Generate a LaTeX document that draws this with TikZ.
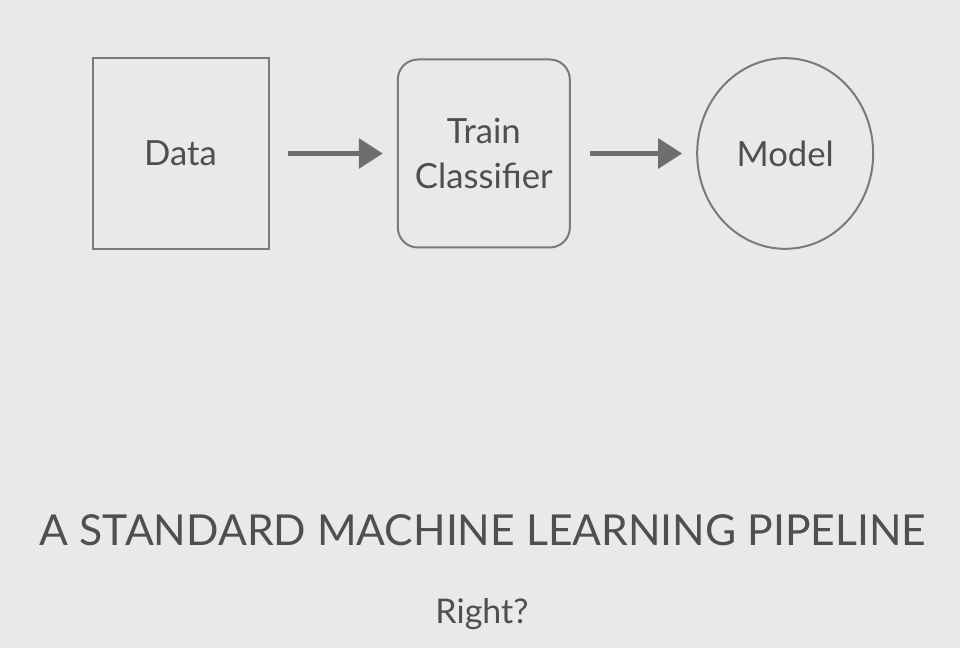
\documentclass[tikz,border=0pt]{standalone}
\usepackage{fontspec}
\setmainfont{Lato}
\usetikzlibrary{arrows.meta,positioning,shapes.geometric}
\definecolor{slidebg}{HTML}{E8E9EB}
\definecolor{boxgray}{HTML}{7A7A7A}
\definecolor{textgray}{HTML}{4F4F4F}
\definecolor{arrowgray}{HTML}{6E6E6E}

\begin{document}
\begin{tikzpicture}[x=0.75pt,y=-0.75pt,
  box/.style={draw=boxgray,line width=1.5pt,minimum width=132pt,
    minimum height=143pt,align=center,text=textgray,
    font=\fontsize{26}{34}\selectfont},
  flow/.style={draw=arrowgray,line width=3.75pt,
    -{Triangle[length=18pt,width=22pt]},shorten <=14pt,shorten >=10.5pt},
  caption/.style={text=textgray,inner sep=0pt}]
\fill[slidebg] (0,0) rectangle (960,648);
\useasboundingbox (0,0) rectangle (960,648);
\node[box] (Data) at (180.5,153.5) {Data};
\node[box,rounded corners=15pt,minimum width=129pt,minimum height=141pt,
  right=95.5pt of Data] (Train) {Train\\Classifier};
\node[box,ellipse,inner sep=0pt,minimum width=132pt,minimum height=143pt,
  right=94pt of Train] (Model) {Model};
\draw[flow] (Data) -- (Train);
\draw[flow] (Train) -- (Model);
% title lines
\node[caption,font=\fontsize{32}{40}\selectfont] (Title) at (483,530)
  {A STANDARD MACHINE LEARNING PIPELINE};
\node[caption,font=\fontsize{25.5}{30}\selectfont] (Right) at (482,614) {Right?};
\end{tikzpicture}
\end{document}
